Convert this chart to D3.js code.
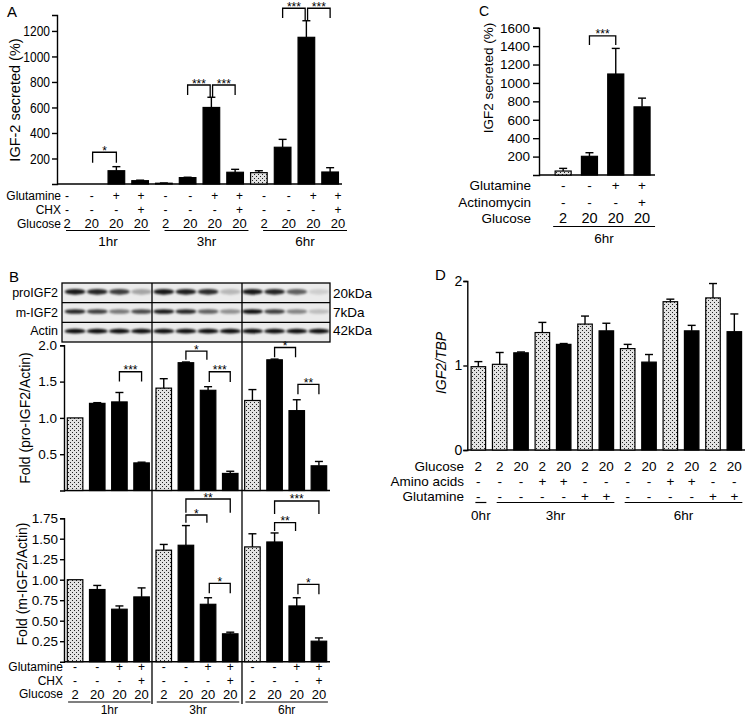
<!DOCTYPE html>
<html><head><meta charset="utf-8">
<script src="https://cdn.jsdelivr.net/npm/d3@7"></script>
<style>
body{margin:0;background:#fff}
svg{display:block}
text{font-family:'Liberation Sans',Arial,Helvetica,sans-serif;fill:#000}
</style>
</head><body>
<svg id="fig" width="745" height="717"></svg>
<script>
// ================= DATA =================
// Panel A
const aGlut = ["-","-","+","+","-","-","+","+","-","-","+","+"];
const aCHX  = ["-","-","-","+","-","-","-","+","-","-","-","+"];
const aGluc = ["2","20","20","20","2","20","20","20","2","20","20","20"];
const times3 = ["1hr","3hr","6hr"];
const aMean = [0,0,104,26,6,50,600,92,89,288,1150,94];
const aSEM  = [0,0,32,4,2,3,80,23,15,62,130,34];
const aDots = [0,0,0,0,0,0,0,0,1,0,0,0];
const aTicks = [200,400,600,800,1000,1200];
const aSig = [
  {from:1,to:2,level:249,leg1:167,leg2:167,label:"*"},
  {from:5,to:6,level:776,leg1:698,leg2:682,label:"***"},
  {from:6,to:7,level:776,leg1:682,leg2:698,label:"***"},
  {from:9,to:10,level:1378,leg1:1302,leg2:1282,label:"***"},
  {from:10,to:11,level:1378,leg1:1282,leg2:1302,label:"***"}
];
// Panel B (blot + two charts)
const blotRows = ["proIGF2","m-IGF2","Actin"];
const blotKDa  = ["20kDa","7kDa","42kDa"];
const bandPro   = [0.9,0.85,0.75,0.3, 0.9,0.88,0.82,0.22, 0.9,0.85,0.6,0.12];
const bandM     = [0.85,0.75,0.5,0.7, 0.9,0.85,0.6,0.4, 0.95,0.75,0.45,0.2];
const bandActin = [0.95,0.95,0.95,0.95, 0.95,0.95,0.95,0.95, 0.95,0.95,0.95,0.95];
const bDots = [1,0,0,0,1,0,0,0,1,0,0,0];
const bTopMean = [1.0,1.2,1.22,0.38, 1.41,1.76,1.38,0.235, 1.24,1.80,1.10,0.34];
const bTopSEM  = [0,0.01,0.13,0.01, 0.13,0.01,0.05,0.03, 0.15,0.01,0.15,0.06];
const bTopTicks = [0.5,1.0,1.5,2.0];
const bTopSig = [
  {from:2,to:3,level:1.636,leg1:1.50,leg2:1.50,label:"***"},
  {from:5,to:6,level:1.92,leg1:1.80,leg2:1.80,label:"*"},
  {from:6,to:7,level:1.636,leg1:1.495,leg2:1.495,label:"***"},
  {from:9,to:10,level:1.97,leg1:1.835,leg2:1.835,label:"*"},
  {from:10,to:11,level:1.463,leg1:1.325,leg2:1.325,label:"**"}
];
const bBotMean = [1.0,0.88,0.64,0.79, 1.36,1.42,0.70,0.34, 1.40,1.46,0.68,0.25];
const bBotSEM  = [0,0.05,0.04,0.11, 0.07,0.24,0.08,0.02, 0.16,0.11,0.10,0.04];
const bBotTicks = [0.25,0.5,0.75,1.0,1.25,1.5,1.75];
const bBotSig = [
  {from:5,to:7,level:1.984,leg1:1.817,leg2:1.817,label:"**"},
  {from:5,to:6,level:1.789,leg1:1.695,leg2:1.695,label:"*"},
  {from:6,to:7,level:0.956,leg1:0.834,leg2:0.834,label:"*"},
  {from:9,to:11,level:1.96,leg1:1.80,leg2:1.80,label:"***"},
  {from:9,to:10,level:1.695,leg1:1.594,leg2:1.594,label:"**"},
  {from:10,to:11,level:0.944,leg1:0.822,leg2:0.822,label:"*"}
];
// Panel C
const cGlut = ["-","-","+","+"];
const cAct  = ["-","-","-","+"];
const cGluc = ["2","20","20","20"];
const cMean = [43,203,1097,740];
const cSEM  = [29,39,278,95];
const cDots = [1,0,0,0];
const cTicks = [200,400,600,800,1000,1200,1400,1600];
const cSig = [{from:1,to:2,level:1512,leg1:1411,leg2:1411,label:"***"}];
// Panel D
const dGluc = ["2","2","20","2","20","2","20","2","20","2","20","2","20"];
const dAA   = ["-","-","-","+","+","-","-","-","-","+","+","-","-"];
const dGlut = ["-","-","-","-","-","+","+","-","-","-","-","+","+"];
const dTimes = ["0hr","3hr","6hr"];
const dGroups = [[0,0],[1,6],[7,12]];
const dMean = [0.986,1.014,1.15,1.39,1.25,1.49,1.41,1.20,1.04,1.755,1.41,1.80,1.40];
const dSEM  = [0.06,0.14,0.01,0.12,0.01,0.095,0.09,0.05,0.09,0.03,0.065,0.17,0.21];
const dDots = dGluc.map(g => g === "2" ? 1 : 0);
const dTicks = [0,1,2];

// ================= HELPERS =================
const svg = d3.select("#fig");
const defs = svg.append("defs");
const pat = defs.append("pattern").attr("id","dots").attr("patternUnits","userSpaceOnUse")
  .attr("width",4).attr("height",4);
pat.append("rect").attr("width",4).attr("height",4).attr("fill","#e2e2e2");
[[0,0],[2,2]].forEach(([px,py]) => pat.append("rect").attr("x",px).attr("y",py)
  .attr("width",1).attr("height",1).attr("fill","#222"));
defs.append("filter").attr("id","blur").attr("x","-50%").attr("y","-150%")
  .attr("width","200%").attr("height","400%")
  .append("feGaussianBlur").attr("stdDeviation",0.9);

function txt(g, x, y, s, o = {}) {
  let tr = `translate(${x},${y})`;
  if (o.rot) tr += ` rotate(${o.rot})`;
  if (o.sx) tr += ` scale(${o.sx},1)`;
  const t = g.append("text").attr("transform", tr)
    .attr("text-anchor", o.anchor || "middle")
    .attr("dy", o.dy === undefined ? "0.35em" : o.dy)
    .attr("font-size", o.size || 13).text(s);
  if (o.italic) t.attr("font-style","italic");
  return t;
}
function yAxis(g, y, ticks, fmt, o) {
  const ax = d3.axisLeft(y).tickValues(ticks).tickFormat(fmt)
    .tickSizeOuter(0).tickSize(o.tick || 5).tickPadding(o.pad || 3);
  const a = g.append("g").attr("transform",`translate(${o.x},0)`).call(ax);
  a.select(".domain").attr("stroke","#000").attr("stroke-width",1.4);
  a.selectAll(".tick line").attr("stroke","#000").attr("stroke-width",1.4);
  a.selectAll("text").attr("font-size", o.size || 14)
    .attr("font-family","'Liberation Sans',Arial,sans-serif").attr("fill","#000");
  if (o.sx) a.selectAll("text").each(function(){
    const t = d3.select(this); const xx = +t.attr("x");
    t.attr("x",0).attr("transform",`translate(${xx},0) scale(${o.sx},1)`);
  });
  return a;
}
function baseline(g, y, x1, x2) {
  g.append("line").attr("x1",x1).attr("x2",x2).attr("y1",y(0)).attr("y2",y(0))
    .attr("stroke","#000").attr("stroke-width",1.4);
}
function bars(g, x, y, vals, sems, dots) {
  const bw = x.bandwidth();
  const idx = d3.range(vals.length).filter(i => vals[i] > 0);
  g.append("g").selectAll("rect").data(idx).join("rect")
    .attr("x", i => x(i)).attr("y", i => y(vals[i]))
    .attr("width", bw).attr("height", i => y(0) - y(vals[i]))
    .attr("fill", i => dots[i] ? "url(#dots)" : "#000")
    .attr("stroke","#000").attr("stroke-width",1.2);
  const eg = g.append("g").attr("stroke","#000").attr("stroke-width",1.4);
  idx.forEach(i => {
    if (!sems[i]) return;
    const cx = x(i) + bw/2, yt = y(vals[i] + sems[i]);
    eg.append("line").attr("x1",cx).attr("x2",cx).attr("y1",y(vals[i])).attr("y2",yt);
    eg.append("line").attr("x1",cx-4).attr("x2",cx+4).attr("y1",yt).attr("y2",yt);
  });
}
function brackets(g, x, y, list) {
  const bw = x.bandwidth(), xc = i => x(i) + bw/2;
  list.forEach(b => {
    const chainL = list.some(o => o !== b && o.to === b.from);
    const chainR = list.some(o => o !== b && o.from === b.to);
    const x1 = xc(b.from) + (chainL ? 1.2 : 0), x2 = xc(b.to) - (chainR ? 1.2 : 0);
    g.append("path").attr("d",`M${x1},${y(b.leg1)}V${y(b.level)}H${x2}V${y(b.leg2)}`)
      .attr("fill","none").attr("stroke","#000").attr("stroke-width",1.3);
    g.append("text").attr("x",(x1+x2)/2).attr("y",y(b.level)+2.5)
      .attr("text-anchor","middle").attr("font-size",12).attr("fill","#000").text(b.label);
  });
}
function rowLabels(g, xpos, rows, o) {
  rows.forEach(r => {
    txt(g, o.labelX + (r.dx || 0), r.y, r.name, {anchor:"end", size:o.size});
    r.vals.forEach((v,i) => txt(g, xpos(i), r.y, v, {size: r.vsize || o.size}));
  });
}
function groupLines(g, xpos, groups, names, yLine, yText, padL, padR, size) {
  groups.forEach((gr,k) => {
    const x1 = xpos(gr[0]) - padL, x2 = xpos(gr[1]) + padR;
    g.append("line").attr("x1",x1).attr("x2",x2).attr("y1",yLine).attr("y2",yLine)
      .attr("stroke","#000").attr("stroke-width",1.2);
    txt(g, (x1+x2)/2, yText, names[k], {size:size || 13.5});
  });
}

// ================= PANEL A =================
{
  const g = svg.append("g");
  const x = d3.scaleBand().domain(d3.range(12)).range([57,342]).paddingInner(0.3).paddingOuter(0.15);
  const y = d3.scaleLinear().domain([0,1325]).range([184,15]);
  const xl = d3.scalePoint().domain(d3.range(12)).range([67,338]);
  txt(g, 7, 12, "A", {anchor:"start", size:15});
  yAxis(g, y, aTicks, d3.format("d"), {x:57, size:15, sx:0.8, tick:5, pad:2});
  baseline(g, y, 57, 342);
  bars(g, x, y, aMean, aSEM, aDots);
  brackets(g, x, y, aSig);
  txt(g, 15, 100, "IGF-2  secreted  (%)", {rot:-90, size:14.5});
  rowLabels(g, xl, [
    {name:"Glutamine", y:196, vals:aGlut},
    {name:"CHX", y:209.5, vals:aCHX},
    {name:"Glucose", y:223.5, vals:aGluc, vsize:13}
  ], {labelX:61, size:12});
  groupLines(g, xl, [[0,3],[4,7],[8,11]], times3, 230.5, 241, 1, 9);
}

// ================= PANEL C =================
{
  const g = svg.append("g");
  const x = d3.scaleBand().domain(d3.range(4)).range([550,655.2]).paddingInner(0.39).paddingOuter(0.195);
  const y = d3.scaleLinear().domain([0,1600]).range([175,27.7]);
  const xc = i => x(i) + x.bandwidth()/2;
  txt(g, 479, 11, "C", {anchor:"start", size:14});
  yAxis(g, y, cTicks, d3.format("d"), {x:539, size:13.5, tick:6, pad:3});
  baseline(g, y, 539, 655);
  bars(g, x, y, cMean, cSEM, cDots);
  brackets(g, x, y, cSig);
  txt(g, 488, 78, "IGF2  secreted  (%)", {rot:-90, size:13.5});
  rowLabels(g, xc, [
    {name:"Glutamine", y:185, vals:cGlut},
    {name:"Actinomycin", y:202, vals:cAct},
    {name:"Glucose", y:218, vals:cGluc, vsize:14.5}
  ], {labelX:531, size:13.5});
  groupLines(g, xc, [[0,3]], ["6hr"], 226.5, 238, 10, 13);
}

// ================= PANEL B =================
{
  const g = svg.append("g");
  const x = d3.scaleBand().domain(d3.range(12)).range([64,330]).paddingInner(0.3).paddingOuter(0.15);
  const xc = i => x(i) + x.bandwidth()/2;
  txt(g, 9, 277, "B", {anchor:"start", size:15});
  // Western blot
  const rowY = d3.scaleBand().domain(blotRows).range([283,342]);
  const blot = g.append("g");
  blot.append("rect").attr("x",62).attr("y",283).attr("width",268).attr("height",59)
    .attr("fill","#ebebeb");
  const bandSets = [bandPro, bandM, bandActin];
  const bandG = blot.append("g").attr("filter","url(#blur)");
  blotRows.forEach((r,k) => {
    bandSets[k].forEach((v,i) => {
      bandG.append("ellipse").attr("cx", xc(i)).attr("cy", rowY(r) + rowY.bandwidth()/2 - 1)
        .attr("rx", 10.5).attr("ry", k === 0 ? 2.8 : 2.3)
        .attr("fill","#000").attr("opacity", v);
    });
    const cy = rowY(r) + rowY.bandwidth()/2 - (k === 2 ? 1.5 : 0);
    txt(g, 58, cy, r, {anchor:"end", size:12.5});
    txt(g, 333, cy, blotKDa[k], {anchor:"start", size:13.5});
  });
  blot.append("rect").attr("x",62).attr("y",283).attr("width",268).attr("height",59)
    .attr("fill","none").attr("stroke","#000").attr("stroke-width",1.3);
  [1,2].forEach(k => blot.append("line").attr("x1",62).attr("x2",330)
    .attr("y1",rowY(blotRows[k])).attr("y2",rowY(blotRows[k])).attr("stroke","#000").attr("stroke-width",1.2));
  // divider lines between time groups
  [152,242].forEach(xx => g.append("line").attr("x1",xx).attr("x2",xx).attr("y1",283).attr("y2",704)
    .attr("stroke","#000").attr("stroke-width",1.3));

  // top chart
  const y1 = d3.scaleLinear().domain([0,2]).range([490.5,345.3]);
  yAxis(g, y1, bTopTicks, d3.format(".1f"), {x:64, size:13.5, tick:4, pad:3});
  baseline(g, y1, 64, 330);
  bars(g, x, y1, bTopMean, bTopSEM, bDots);
  brackets(g, x, y1, bTopSig);
  txt(g, 25, 418, "Fold (pro-IGF2/Actin)", {rot:-90, size:14});

  // bottom chart
  const y2 = d3.scaleLinear().domain([0,1.75]).range([661.7,518.2]);
  yAxis(g, y2, bBotTicks, d3.format(".2f"), {x:64, size:13.5, tick:4, pad:2});
  baseline(g, y2, 64, 330);
  bars(g, x, y2, bBotMean, bBotSEM, bDots);
  brackets(g, x, y2, bBotSig);
  txt(g, 22, 584, "Fold (m-IGF2/Actin)", {rot:-90, size:14});

  rowLabels(g, xc, [
    {name:"Glutamine", y:667, vals:aGlut},
    {name:"CHX", y:680.5, vals:aCHX},
    {name:"Glucose", y:694, vals:aGluc, vsize:13}
  ], {labelX:63, size:12});
  groupLines(g, xc, [[0,3],[4,7],[8,11]], times3, 702, 710, 7, 9, 12);
}

// ================= PANEL D =================
{
  const g = svg.append("g");
  const x = d3.scaleBand().domain(d3.range(13)).range([467.7,745]).paddingInner(0.32).paddingOuter(0.16);
  const xc = i => x(i) + x.bandwidth()/2;
  const y = d3.scaleLinear().domain([0,2]).range([450,281]);
  txt(g, 435, 275, "D", {anchor:"start", size:15});
  yAxis(g, y, dTicks, d3.format("d"), {x:467.3, size:14, tick:4, pad:1});
  baseline(g, y, 467.3, 745);
  bars(g, x, y, dMean, dSEM, dDots);
  txt(g, 441, 363, "IGF2/TBP", {rot:-90, size:14, italic:true});
  rowLabels(g, xc, [
    {name:"Glucose", y:466, vals:dGluc},
    {name:"Amino acids", y:481.5, vals:dAA},
    {name:"Glutamine", y:496.5, vals:dGlut}
  ], {labelX:464, size:13.5});
  groupLines(g, xc, dGroups, dTimes, 502.5, 515, 3, 8);
}
</script>
</body></html>
